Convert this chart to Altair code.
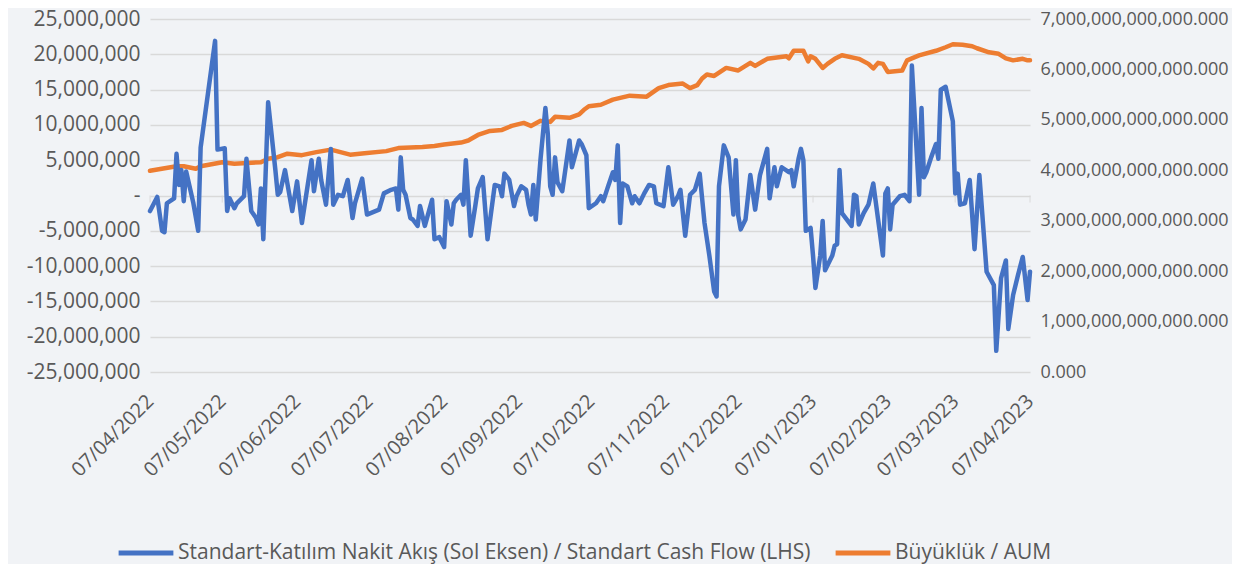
import altair as alt
import pandas as pd

SERIES = [
    "Standart-Katılım Nakit Akış (Sol Eksen) / Standart Cash Flow (LHS)",
    "Büyüklük / AUM",
]
BLUE = "#4472C4"
ORANGE = "#ED7D31"
FONT = "Open Sans"
TEXT = "#595959"
GRID = "#d9d9d9"
BG = "#f1f3f6"

tick_labels = ["07/04/2022", "07/05/2022", "07/06/2022", "07/07/2022", "07/08/2022",
               "07/09/2022", "07/10/2022", "07/11/2022", "07/12/2022", "07/01/2023",
               "07/02/2023", "07/03/2023", "07/04/2023"]
left_ticks = [-25e6, -20e6, -15e6, -10e6, -5e6, 0, 5e6, 10e6, 15e6, 20e6, 25e6]
right_ticks = [0, 1e12, 2e12, 3e12, 4e12, 5e12, 6e12, 7e12]

flow_dates = [
    "2022-04-07", "2022-04-10", "2022-04-12", "2022-04-13", "2022-04-14", "2022-04-17", "2022-04-18", "2022-04-19", "2022-04-20", "2022-04-21",
    "2022-04-22", "2022-04-25", "2022-04-27", "2022-04-28", "2022-05-04", "2022-05-05", "2022-05-08", "2022-05-09", "2022-05-10", "2022-05-12",
    "2022-05-13", "2022-05-16", "2022-05-17", "2022-05-19", "2022-05-21", "2022-05-22", "2022-05-23", "2022-05-24", "2022-05-26", "2022-05-29",
    "2022-05-30", "2022-05-31", "2022-06-02", "2022-06-05", "2022-06-07", "2022-06-09", "2022-06-13", "2022-06-14", "2022-06-16", "2022-06-17",
    "2022-06-19", "2022-06-21", "2022-06-22", "2022-06-24", "2022-06-26", "2022-06-28", "2022-06-30", "2022-07-01", "2022-07-04", "2022-07-06",
    "2022-07-11", "2022-07-13", "2022-07-16", "2022-07-18", "2022-07-19", "2022-07-20", "2022-07-21", "2022-07-22", "2022-07-24", "2022-07-25",
    "2022-07-27", "2022-07-28", "2022-07-30", "2022-08-02", "2022-08-03", "2022-08-05", "2022-08-07", "2022-08-08", "2022-08-10", "2022-08-11",
    "2022-08-12", "2022-08-14", "2022-08-15", "2022-08-16", "2022-08-18", "2022-08-20", "2022-08-21", "2022-08-23", "2022-08-25", "2022-08-28",
    "2022-08-30", "2022-08-31", "2022-09-01", "2022-09-03", "2022-09-05", "2022-09-06", "2022-09-08", "2022-09-10", "2022-09-11", "2022-09-12",
    "2022-09-13", "2022-09-14", "2022-09-16", "2022-09-18", "2022-09-19", "2022-09-20", "2022-09-21", "2022-09-22", "2022-09-23", "2022-09-25",
    "2022-09-28", "2022-09-29", "2022-10-02", "2022-10-03", "2022-10-05", "2022-10-06", "2022-10-09", "2022-10-11", "2022-10-12", "2022-10-14",
    "2022-10-16", "2022-10-17", "2022-10-18", "2022-10-19", "2022-10-20", "2022-10-22", "2022-10-24", "2022-10-25", "2022-10-27", "2022-10-29",
    "2022-10-31", "2022-11-02", "2022-11-03", "2022-11-06", "2022-11-08", "2022-11-10", "2022-11-12", "2022-11-13", "2022-11-15", "2022-11-17",
    "2022-11-19", "2022-11-21", "2022-11-23", "2022-11-25", "2022-11-27", "2022-11-28", "2022-11-29", "2022-12-01", "2022-12-03", "2022-12-05",
    "2022-12-06", "2022-12-07", "2022-12-08", "2022-12-10", "2022-12-12", "2022-12-14", "2022-12-16", "2022-12-19", "2022-12-20", "2022-12-22",
    "2022-12-23", "2022-12-25", "2022-12-28", "2022-12-29", "2022-12-30", "2023-01-01", "2023-01-02", "2023-01-03", "2023-01-04", "2023-01-06",
    "2023-01-07", "2023-01-08", "2023-01-10", "2023-01-11", "2023-01-12", "2023-01-15", "2023-01-16", "2023-01-17", "2023-01-18", "2023-01-19",
    "2023-01-23", "2023-01-24", "2023-01-25", "2023-01-26", "2023-01-28", "2023-01-30", "2023-02-01", "2023-02-03", "2023-02-05", "2023-02-06",
    "2023-02-07", "2023-02-08", "2023-02-09", "2023-02-12", "2023-02-14", "2023-02-16", "2023-02-17", "2023-02-20", "2023-02-21", "2023-02-22",
    "2023-02-23", "2023-02-25", "2023-02-27", "2023-02-28", "2023-03-01", "2023-03-03", "2023-03-06", "2023-03-07", "2023-03-08", "2023-03-09",
    "2023-03-11", "2023-03-13", "2023-03-15", "2023-03-17", "2023-03-20", "2023-03-23", "2023-03-24", "2023-03-26", "2023-03-28", "2023-03-29",
    "2023-03-31", "2023-04-02", "2023-04-04", "2023-04-06", "2023-04-07",
]
flow_values = [
    -2.2e6, -0.2e6, -5.0e6, -5.2e6, -1.1e6, -0.4e6, 5.9e6, 1.5e6, 3.6e6, -0.8e6,
    3.4e6, -1.1e6, -5.0e6, 6.8e6, 21.9e6, 6.5e6, 6.7e6, -2.2e6, -0.4e6, -1.8e6,
    -1.1e6, -0.1e6, 5.2e6, -2.2e6, -3.2e6, -4.1e6, 1.0e6, -6.2e6, 13.2e6, 3.6e6,
    0.1e6, 0.5e6, 3.6e6, -2.2e6, 2.0e6, -3.9e6, 5.0e6, 0.6e6, 5.2e6, 2.2e6,
    -1.3e6, 6.6e6, -1.3e6, 0.1e6, -0.1e6, 2.2e6, -3.2e6, -1.1e6, 2.4e6, -2.7e6,
    -2.0e6, 0.3e6, 0.8e6, 1.0e6, -2.0e6, 5.4e6, 0.8e6, 0.1e6, -3.2e6, -3.4e6,
    -4.3e6, -1.5e6, -4.3e6, -0.6e6, -6.2e6, -5.9e6, -7.3e6, -0.8e6, -4.1e6, -1.1e6,
    -0.6e6, 0.1e6, -1.3e6, 5.0e6, -5.7e6, -1.3e6, 1.0e6, 2.6e6, -6.2e6, 1.5e6,
    1.3e6, -0.1e6, 3.1e6, 2.2e6, -1.5e6, -0.1e6, 1.3e6, 0.8e6, -1.3e6, -2.7e6,
    1.5e6, -3.4e6, 5.2e6, 12.4e6, 8.7e6, 1.3e6, 0.1e6, 5.4e6, 1.9e6, 0.6e6,
    7.8e6, 4.0e6, 7.8e6, 7.3e6, 5.7e6, -1.8e6, -1.1e6, -0.1e6, -0.8e6, 1.3e6,
    3.3e6, 2.2e6, 7.1e6, -3.9e6, 1.7e6, 1.3e6, -1.1e6, -0.1e6, -1.1e6, 0.3e6,
    1.5e6, 1.3e6, -1.1e6, -1.5e6, 4.0e6, -1.3e6, -0.1e6, 0.8e6, -5.7e6, 0.1e6,
    0.8e6, 3.1e6, -3.9e6, -8.5e6, -13.6e6, -14.3e6, 1.3e6, 7.1e6, 5.4e6, -2.7e6,
    5.0e6, -2.9e6, -4.8e6, -3.4e6, 2.9e6, -2.0e6, 2.9e6, 6.6e6, -0.4e6, 4.0e6,
    1.3e6, 4.0e6, 3.3e6, 3.6e6, 1.3e6, 5.2e6, 6.6e6, 5.0e6, -5.0e6, -4.6e6,
    -8.5e6, -13.1e6, -8.5e6, -3.6e6, -10.6e6, -8.5e6, -7.1e6, -6.9e6, 3.6e6, -2.5e6,
    -4.3e6, 0.1e6, -0.1e6, -4.1e6, -2.5e6, -1.3e6, 1.7e6, -3.4e6, -8.5e6, 0.3e6,
    1.0e6, -4.8e6, -1.3e6, -0.1e6, 0.1e6, -0.8e6, 18.4e6, 0.1e6, 12.4e6, 2.6e6,
    3.3e6, 5.4e6, 7.3e6, 5.2e6, 15.0e6, 15.4e6, 10.5e6, 0.3e6, 3.1e6, -1.3e6,
    -1.1e6, 2.2e6, -7.6e6, 2.9e6, -10.8e6, -12.7e6, -22.0e6, -11.7e6, -9.2e6, -18.9e6,
    -14.1e6, -11.3e6, -8.7e6, -14.8e6, -10.8e6,
]

aum_dates = [
    "2022-04-07", "2022-04-18", "2022-04-21", "2022-04-26", "2022-04-28", "2022-05-07", "2022-05-12", "2022-05-23", "2022-05-26", "2022-05-30",
    "2022-06-03", "2022-06-09", "2022-06-15", "2022-06-21", "2022-06-29", "2022-07-05", "2022-07-14", "2022-07-19", "2022-07-29", "2022-08-03",
    "2022-08-07", "2022-08-14", "2022-08-17", "2022-08-21", "2022-08-26", "2022-08-31", "2022-09-04", "2022-09-09", "2022-09-12", "2022-09-16",
    "2022-09-20", "2022-09-22", "2022-09-28", "2022-10-02", "2022-10-04", "2022-10-06", "2022-10-11", "2022-10-16", "2022-10-23", "2022-10-30",
    "2022-11-04", "2022-11-08", "2022-11-14", "2022-11-17", "2022-11-20", "2022-11-22", "2022-11-24", "2022-11-27", "2022-12-02", "2022-12-07",
    "2022-12-12", "2022-12-14", "2022-12-19", "2022-12-27", "2022-12-28", "2022-12-30", "2023-01-03", "2023-01-05", "2023-01-06", "2023-01-08",
    "2023-01-11", "2023-01-13", "2023-01-16", "2023-01-19", "2023-01-26", "2023-01-30", "2023-02-01", "2023-02-03", "2023-02-05", "2023-02-07",
    "2023-02-13", "2023-02-15", "2023-02-20", "2023-02-27", "2023-03-03", "2023-03-06", "2023-03-10", "2023-03-14", "2023-03-16", "2023-03-21",
    "2023-03-25", "2023-03-28", "2023-03-31", "2023-04-04", "2023-04-06", "2023-04-07",
]
aum_values = [
    3.99e12, 4.08e12, 4.08e12, 4.03e12, 4.08e12, 4.16e12, 4.13e12, 4.16e12, 4.23e12, 4.26e12,
    4.33e12, 4.30e12, 4.36e12, 4.41e12, 4.31e12, 4.34e12, 4.38e12, 4.44e12, 4.46e12, 4.48e12,
    4.51e12, 4.55e12, 4.59e12, 4.70e12, 4.78e12, 4.80e12, 4.88e12, 4.94e12, 4.88e12, 4.98e12,
    4.96e12, 5.06e12, 5.04e12, 5.11e12, 5.20e12, 5.27e12, 5.30e12, 5.40e12, 5.48e12, 5.46e12,
    5.63e12, 5.69e12, 5.72e12, 5.63e12, 5.69e12, 5.82e12, 5.90e12, 5.87e12, 6.03e12, 5.98e12,
    6.13e12, 6.07e12, 6.21e12, 6.26e12, 6.22e12, 6.37e12, 6.37e12, 6.16e12, 6.26e12, 6.21e12,
    6.03e12, 6.11e12, 6.21e12, 6.28e12, 6.21e12, 6.11e12, 6.02e12, 6.13e12, 6.11e12, 5.95e12,
    5.98e12, 6.18e12, 6.28e12, 6.37e12, 6.44e12, 6.50e12, 6.49e12, 6.46e12, 6.42e12, 6.34e12,
    6.31e12, 6.22e12, 6.18e12, 6.21e12, 6.18e12, 6.18e12,
]

flow_df = pd.DataFrame({"date": flow_dates, "value": flow_values, "series": SERIES[0]})
aum_df = pd.DataFrame({"date": aum_dates, "value": aum_values, "series": SERIES[1]})


def to_iso(label):
    d, m, y = label.split("/")
    return f"{y}-{m}-{d}"


def to_dt(label):
    d, m, y = label.split("/")
    return alt.DateTime(year=int(y), month=int(m), date=int(d), utc=True)


tick_dt = [to_dt(s) for s in tick_labels]
zero_df = pd.DataFrame({"date": [to_iso(s) for s in tick_labels], "value": 0})

x_scale = alt.Scale(type="utc", domain=[tick_dt[0], tick_dt[-1]], nice=False)
color_scale = alt.Scale(domain=SERIES, range=[BLUE, ORANGE])

legend = alt.Legend(
    orient="none", legendX=-34, legendY=504, direction="horizontal", title=None,
    symbolType="stroke", symbolStrokeWidth=5, symbolSize=3000, symbolOffset=0,
    labelFont=FONT, labelFontSize=21, labelColor=TEXT, labelOffset=2,
    columnPadding=14, labelLimit=1000,
)

x_axis = alt.Axis(
    values=tick_dt, format="%d/%m/%Y", labelAngle=-45, labelAlign="right",
    labelBaseline="middle", domain=False, ticks=False, grid=False,
    labelPadding=26, labelFont=FONT, labelFontSize=20, labelColor=TEXT,
    labelOverlap=False, labelLimit=1000, title=None,
)
left_axis = alt.Axis(
    values=left_ticks,
    labelExpr="datum.value == 0 ? '-\u2007\u2007\u2007' : replace(format(datum.value, ','), '\u2212', '-')",
    grid=True, gridColor=GRID, gridWidth=1.3, domain=False, ticks=False,
    labelPadding=10, labelFont=FONT, labelFontSize=21, labelColor=TEXT,
    labelOverlap=False, labelLimit=1000, title=None,
)
right_axis = alt.Axis(
    orient="right", values=right_ticks, format=",.3f", grid=False, domain=False,
    ticks=False, labelPadding=10, labelFont=FONT, labelFontSize=18,
    labelColor=TEXT, labelOverlap=False, labelLimit=1000, title=None,
)

left_y = alt.Scale(domain=[-25e6, 25e6], nice=False)

aum_line = alt.Chart(aum_df).mark_line(
    strokeWidth=4.5, strokeJoin="round", strokeCap="round"
).encode(
    x=alt.X("date:T", scale=x_scale, axis=x_axis),
    y=alt.Y("value:Q", scale=alt.Scale(domain=[0, 7e12], nice=False), axis=right_axis),
    color=alt.Color("series:N", scale=color_scale, legend=legend),
)

flow_line = alt.Chart(flow_df).mark_line(
    strokeWidth=4.5, strokeJoin="round", strokeCap="round"
).encode(
    x=alt.X("date:T", scale=x_scale, axis=x_axis),
    y=alt.Y("value:Q", scale=left_y, axis=left_axis),
    color=alt.Color("series:N", scale=color_scale, legend=legend),
)

zero_ticks = alt.Chart(zero_df).mark_tick(
    orient="vertical", size=7, thickness=1.3, color=GRID, yOffset=3.5
).encode(
    x=alt.X("date:T", scale=x_scale, axis=x_axis),
    y=alt.Y("value:Q", scale=left_y, axis=left_axis),
)

left_layer = alt.layer(zero_ticks, flow_line)

chart = alt.layer(aum_line, left_layer).resolve_scale(y="independent").properties(
    width=880,
    height=353,
    padding={"left": 142, "top": 11, "right": 202, "bottom": 192},
    autosize=alt.AutoSizeParams(type="none"),
    background=BG,
).configure_view(stroke=None)

chart.save("out.html", embed_options={"renderer": "svg", "actions": False})
